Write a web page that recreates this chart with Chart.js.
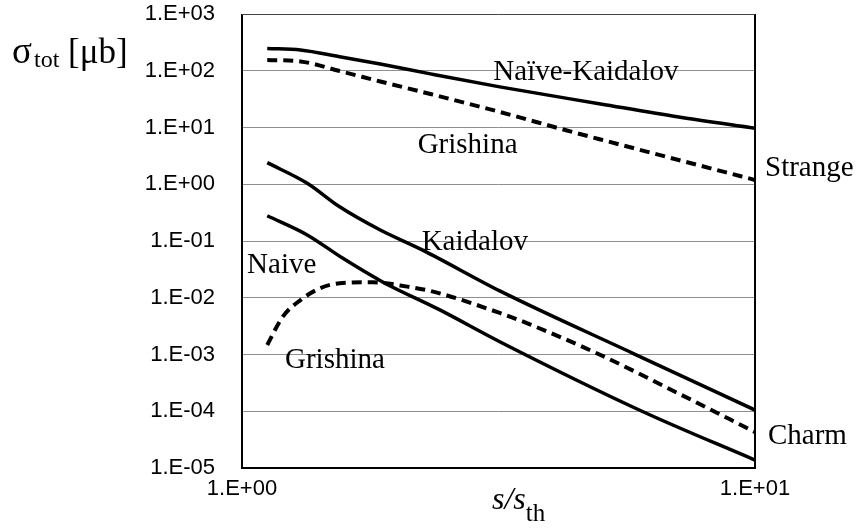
<!DOCTYPE html>
<html>
<head>
<meta charset="utf-8">
<script src="https://cdn.jsdelivr.net/npm/chart.js@4/dist/chart.umd.min.js"></script>
<style>
  body { margin: 0; background: #fff; }
  canvas { display: block; }
</style>
</head>
<body>
<canvas id="chart" width="859" height="528"></canvas>
<script>
// Strange: Naive-Kaidalov (solid) and Grishina (dashed)
const STR_NK_S = [1.12, 1.3, 1.55, 1.86, 2.33, 3.18, 5.0, 7.1, 10];
const STR_NK_SIGMA = [247, 232, 177, 131, 88, 52, 26, 15.3, 9.7];
const STR_GR_S = [1.12, 1.3, 1.55, 1.86, 2.33, 3.18, 4.3, 5.0, 7.8, 10];
const STR_GR_SIGMA = [155, 146, 99, 64.7, 38.9, 18.8, 8.85, 6.15, 2.14, 1.19];

// Charm: Kaidalov (solid), Naive (solid), Grishina (dashed)
const CH_KA_S = [1.12, 1.34, 1.55, 1.86, 2.25, 3.18, 5.78, 10];
const CH_KA_SIGMA = [2.4, 1.04, 0.40, 0.156, 0.069, 0.0132, 1.05e-3, 1.05e-4];
const CH_NA_S = [1.12, 1.34, 1.57, 1.88, 2.43, 3.18, 6.05, 10];
const CH_NA_SIGMA = [0.279, 0.128, 0.050, 0.019, 6.1e-3, 1.68e-3, 9.8e-5, 1.38e-5];
const CH_GR_S = [1.12, 1.2, 1.3, 1.42, 1.55, 1.8, 2.1, 2.36, 3.18, 3.64, 5.0, 7.14, 10];
const CH_GR_SIGMA = [1.47e-3, 4.6e-3, 9.1e-3, 0.0147, 0.018, 0.0187, 0.0157, 0.0128, 5.4e-3, 3.4e-3, 9.8e-4, 2.0e-4, 4.3e-5];

// Axis ticks
const X_TICKS = [1, 10];
const Y_TICKS = [1e-5, 1e-4, 1e-3, 1e-2, 1e-1, 1e0, 1e1, 1e2, 1e3];

// Curve labels, anchored in data coordinates (s/s_th, sigma)
const LABEL_TEXT = ["Naïve-Kaidalov", "Grishina", "Strange", "Kaidalov", "Naive", "Grishina", "Charm"];
const LABEL_S = [3.09, 2.2, 10.46, 2.24, 1.023, 1.213, 10.6];
const LABEL_SIGMA = [68.7, 3.55, 1.4, 0.0694, 0.0273, 5.78e-4, 2.65e-5];

const toPoints = (xs, ys) => xs.map((x, i) => ({ x: x, y: ys[i] }));

// Format like Excel scientific: 1.E+03
function sciLabel(v) {
  const e = Math.round(Math.log10(v));
  const sign = e < 0 ? "-" : "+";
  return "1.E" + sign + String(Math.abs(e)).padStart(2, "0");
}

function line(xs, ys, dashed) {
  return {
    data: toPoints(xs, ys),
    borderColor: "#000",
    borderWidth: dashed ? 4 : 3.5,
    borderDash: dashed ? [10, 6] : [],
    pointRadius: 0,
    cubicInterpolationMode: "monotone",
    fill: false,
  };
}

// Frame, curve labels and axis titles
const decorations = {
  id: "decorations",
  afterDatasetsDraw(chart) {
    const { ctx, chartArea: a, scales } = chart;
    ctx.save();
    // plot frame
    ctx.strokeStyle = "#000";
    ctx.lineWidth = 2;
    ctx.beginPath();
    ctx.moveTo(a.left, a.top);
    ctx.lineTo(a.left, a.bottom);
    ctx.lineTo(a.right, a.bottom);
    ctx.lineTo(a.right, a.top);
    ctx.stroke();
    ctx.strokeStyle = "#444";
    ctx.lineWidth = 1;
    ctx.beginPath();
    ctx.moveTo(a.left, a.top + 0.5);
    ctx.lineTo(a.right, a.top + 0.5);
    ctx.stroke();

    // curve labels
    ctx.fillStyle = "#000";
    ctx.font = '29px "Liberation Serif", "Times New Roman", serif';
    ctx.textBaseline = "alphabetic";
    ctx.textAlign = "left";
    LABEL_TEXT.forEach((t, i) => {
      ctx.fillText(t, scales.x.getPixelForValue(LABEL_S[i]), scales.y.getPixelForValue(LABEL_SIGMA[i]));
    });

    // y title: sigma_tot [mu b]
    ctx.font = '37px "Liberation Serif", serif';
    ctx.fillText("σ", 12, 63);
    ctx.font = '24px "Liberation Serif", serif';
    ctx.fillText("tot", 34, 67);
    ctx.font = '35px "Liberation Serif", serif';
    ctx.fillText("[μb]", 68, 63);

    // x title: s/s_th
    ctx.font = 'italic 32px "Liberation Serif", serif';
    ctx.fillText("s/s", 492, 509);
    const w = ctx.measureText("s/s").width;
    ctx.font = '25px "Liberation Serif", serif';
    ctx.fillText("th", 492 + w, 521);
    ctx.restore();
  },
};

new Chart(document.getElementById("chart"), {
  type: "line",
  data: {
    datasets: [
      line(STR_NK_S, STR_NK_SIGMA, false),
      line(STR_GR_S, STR_GR_SIGMA, true),
      line(CH_KA_S, CH_KA_SIGMA, false),
      line(CH_NA_S, CH_NA_SIGMA, false),
      line(CH_GR_S, CH_GR_SIGMA, true),
    ],
  },
  options: {
    responsive: false,
    animation: false,
    layout: { padding: { top: 14, right: 104, bottom: 0, left: 0 } },
    plugins: { legend: { display: false }, tooltip: { enabled: false } },
    scales: {
      x: {
        type: "logarithmic",
        min: 1,
        max: 10,
        afterBuildTicks: (scale) => {
          scale.ticks = X_TICKS.map((v) => ({ value: v }));
        },
        afterFit: (scale) => {
          scale.height = 60;
        },
        grid: { display: false, drawTicks: false },
        border: { display: false },
        ticks: {
          color: "#000",
          padding: 8,
          maxRotation: 0,
          font: { family: '"Liberation Sans", Arial, sans-serif', size: 22 },
          callback: (v) => sciLabel(v),
        },
      },
      y: {
        type: "logarithmic",
        min: 1e-5,
        max: 1e3,
        afterBuildTicks: (scale) => {
          scale.ticks = Y_TICKS.map((v) => ({ value: v }));
        },
        afterFit: (scale) => {
          scale.width = 242;
          scale.paddingTop = 12;
          scale.paddingBottom = 0;
        },
        grid: { color: "#8f8f8f", lineWidth: 1, drawTicks: false },
        border: { display: false },
        ticks: {
          color: "#000",
          padding: 27,
          font: { family: '"Liberation Sans", Arial, sans-serif', size: 22 },
          callback: (v) => sciLabel(v),
        },
      },
    },
  },
  plugins: [decorations],
});
</script>
</body>
</html>
